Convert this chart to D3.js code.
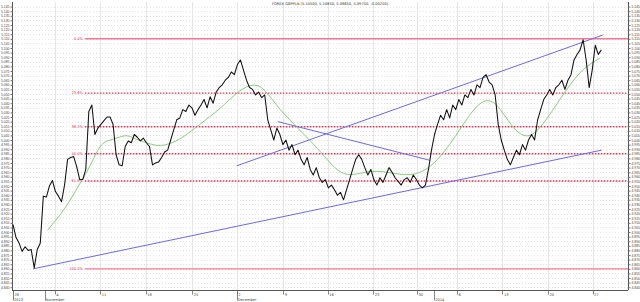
<!DOCTYPE html>
<html>
<head>
<meta charset="utf-8">
<script src="https://cdn.jsdelivr.net/npm/d3@7"></script>
<style>
  html, body { margin: 0; padding: 0; background: #fff; }
  svg { display: block; font-family: 'DejaVu Sans', sans-serif; }
</style>
</head>
<body>
<svg id="chart"></svg>
<script>
const title = 'FOREX GBPPLN (5.10500, 5.10850, 5.08650, 5.09750, -0.00200)'

// closes, three bars per trading day
const closes = [
  4.908, 4.894, 4.888, 4.879, 4.884, 4.880, 4.881, 4.861, 4.881, 4.888,
  4.939, 4.938, 4.950, 4.956, 4.944, 4.939, 4.933, 4.951, 4.979, 4.981,
  4.982, 4.971, 4.957, 4.957, 4.968, 5.031, 5.038, 5.006, 5.013, 5.017,
  5.021, 5.025, 5.025, 5.017, 4.984, 4.973, 4.972, 4.993, 4.999, 4.997,
  5.006, 5.003, 4.999, 5.002, 4.997, 4.993, 4.973, 4.975, 4.976, 4.981,
  4.987, 4.989, 5.000, 5.011, 5.022, 5.024, 5.033, 5.031, 5.038, 5.035,
  5.027, 5.033, 5.038, 5.044, 5.035, 5.047, 5.040, 5.052, 5.057, 5.060,
  5.065, 5.068, 5.074, 5.071, 5.082, 5.087, 5.076, 5.065, 5.057, 5.055,
  5.049, 5.052, 5.046, 5.049, 5.022, 5.011, 5.000, 5.013, 5.006, 4.995,
  5.000, 4.989, 4.995, 4.984, 4.989, 4.979, 4.973, 4.981, 4.968, 4.962,
  4.970, 4.959, 4.954, 4.957, 4.948, 4.951, 4.946, 4.940, 4.943, 4.935,
  4.946, 4.957, 4.968, 4.979, 4.984, 4.979, 4.970, 4.962, 4.968, 4.957,
  4.951, 4.959, 4.954, 4.962, 4.970, 4.965, 4.959, 4.955, 4.951, 4.957,
  4.959, 4.954, 4.962, 4.957, 4.951, 4.948, 4.951, 4.968, 4.989, 5.006,
  5.017, 5.027, 5.022, 5.033, 5.024, 5.038, 5.033, 5.044, 5.038, 5.049,
  5.046, 5.055, 5.049, 5.060, 5.057, 5.068, 5.071, 5.063, 5.060, 5.049,
  5.017, 5.000, 4.989, 4.979, 4.973, 4.981, 4.989, 4.984, 4.995, 4.989,
  5.000, 5.006, 5.000, 5.022, 5.033, 5.044, 5.049, 5.055, 5.049, 5.057,
  5.060, 5.065, 5.055, 5.065, 5.071, 5.087, 5.093, 5.098, 5.109, 5.087,
  5.057, 5.076, 5.103, 5.093, 5.098
]
const barsPerDay = 3

// moving average, [trading day, value]
const average = [
  [3.8, 4.902], [5.9, 4.927], [7.4, 4.954], [8.5, 4.971], [9.6, 4.997],
  [10.7, 5.000], [11.4, 5.002], [12.5, 5.006], [13.2, 5.002], [14.7, 4.997],
  [16.2, 4.992], [18.4, 5.000], [20.5, 5.017], [22.7, 5.033], [24.9, 5.055],
  [26.6, 5.062], [27.7, 5.055], [29.3, 5.033], [31.5, 5.011], [33.7, 4.989],
  [35.9, 4.962], [37.6, 4.962], [39.8, 4.968], [42.5, 4.962], [44.7, 4.962],
  [46.9, 4.979], [49.1, 5.011], [51.3, 5.044], [53.0, 5.044], [54.6, 5.017],
  [56.3, 5.000], [57.9, 5.011], [60.1, 5.044], [62.3, 5.076], [64.5, 5.089]
]

// trend lines, two ends each
const trendLines = [
  [[2.2, 4.860], [64.7, 4.989]],
  [[24.6, 4.972], [64.8, 5.114]],
  [[29.1, 5.020], [45.8, 4.978]]
]

const fibLabels = ['0.0%', '23.6%', '38.2%', '50.0%', '61.8%', '100.0%']
const fibValues = [5.110, 5.051, 5.0145, 4.985, 4.9555, 4.860]
const fibStart = 7.9

const weekDays = [0, 4.6, 9.6, 14.6, 19.7, 24.6, 29.7, 34.6, 39.6, 44.4, 48.8, 53.8, 58.8, 63.7]
const weekLabels = ['28', '4', '11', '18', '25', '2', '9', '16', '23', '30', '6', '13', '20', '27']
const monthDays = [0, 3.5, 24.6, 46.3]
const monthLabels = ['2013', 'November', 'December', '2014']

const priceTicks = d3.range(4.840, 5.1451, 0.005)

const width = 640
const height = 302
const plot = { left: 12, right: 628, top: 2, bottom: 290 }

const svg = d3.select('#chart').attr('width', width).attr('height', height)

const x = d3.scaleLinear().domain([0, 67.6]).range([13, plot.right])
const y = d3.scaleLinear().domain([4.837, 5.150]).range([plot.bottom, plot.top])
const snap = v => Math.round(v) + 0.5

// grid
svg.append('g').selectAll('line').data(priceTicks).join('line')
  .attr('x1', plot.left).attr('x2', plot.right)
  .attr('y1', d => snap(y(d))).attr('y2', d => snap(y(d)))
  .attr('stroke', '#d2d2d2').attr('stroke-width', 0.6).attr('stroke-dasharray', '1,2')

svg.append('g').selectAll('line').data(weekDays.slice(1)).join('line')
  .attr('x1', d => snap(x(d))).attr('x2', d => snap(x(d)))
  .attr('y1', plot.top).attr('y2', plot.bottom)
  .attr('stroke', '#e0e0e0').attr('stroke-width', 0.8)

// axes
const fmt = d3.format('.3f')
const left = svg.append('g').attr('transform', `translate(${plot.left + 0.5},0)`)
  .call(d3.axisLeft(y).tickValues(priceTicks).tickFormat(fmt).tickSize(2).tickPadding(1))
const right = svg.append('g').attr('transform', `translate(${plot.right + 0.5},0)`)
  .call(d3.axisRight(y).tickValues(priceTicks).tickFormat(fmt).tickSize(2).tickPadding(1))
;[left, right].forEach(g => {
  g.select('.domain').attr('d', `M0,${plot.top}V${plot.bottom}`).attr('stroke', '#555')
  g.selectAll('.tick line').attr('stroke', '#777')
  g.selectAll('text').attr('font-size', 3.4).attr('fill', '#444')
})

const bottom = svg.append('g').attr('transform', `translate(0,${plot.bottom + 0.5})`)
bottom.append('line').attr('x1', plot.left).attr('x2', plot.right).attr('stroke', '#555')
bottom.selectAll('.wk').data(weekDays).join('line').attr('class', 'wk')
  .attr('x1', d => snap(x(d))).attr('x2', d => snap(x(d)))
  .attr('y1', 0).attr('y2', 4).attr('stroke', '#666').attr('stroke-width', 0.8)
bottom.selectAll('.wkl').data(weekDays).join('text').attr('class', 'wkl')
  .attr('x', d => x(d) + 1.5).attr('y', 5.5)
  .attr('font-size', 3.6).attr('fill', '#444').text((d, i) => weekLabels[i])
bottom.selectAll('.mo').data(monthDays).join('line').attr('class', 'mo')
  .attr('x1', d => snap(x(d))).attr('x2', d => snap(x(d)))
  .attr('y1', 0).attr('y2', 10).attr('stroke', '#666').attr('stroke-width', 0.8)
bottom.selectAll('.mol').data(monthDays).join('text').attr('class', 'mol')
  .attr('x', d => x(d) + 1).attr('y', 10)
  .attr('font-size', 3.6).attr('fill', '#444').text((d, i) => monthLabels[i])

// fibonacci levels, solid at the ends, dotted between
const isEnd = i => i === 0 || i === fibValues.length - 1
const fib = svg.append('g')
fib.selectAll('line').data(fibValues).join('line')
  .attr('x1', x(fibStart)).attr('x2', plot.right)
  .attr('y1', d => y(d)).attr('y2', d => y(d))
  .attr('stroke', (d, i) => isEnd(i) ? '#f27a94' : '#f2304e')
  .attr('stroke-width', 1.4)
  .attr('stroke-dasharray', (d, i) => isEnd(i) ? null : '1.5,1.5')
fib.selectAll('text').data(fibValues).join('text')
  .attr('x', x(fibStart) - 2).attr('y', d => y(d) + 1.3)
  .attr('text-anchor', 'end').attr('font-size', 3.6).attr('fill', '#e8304e')
  .text((d, i) => fibLabels[i])

// trend lines
svg.append('g').selectAll('line').data(trendLines).join('line')
  .attr('x1', d => x(d[0][0])).attr('y1', d => y(d[0][1]))
  .attr('x2', d => x(d[1][0])).attr('y2', d => y(d[1][1]))
  .attr('stroke', '#6b6bdc').attr('stroke-width', 1)

// moving average
svg.append('path').datum(average)
  .attr('d', d3.line().x(d => x(d[0])).y(d => y(d[1])).curve(d3.curveBasis))
  .attr('fill', 'none').attr('stroke', '#6cbf60').attr('stroke-width', 0.8)

// price
svg.append('path').datum(closes)
  .attr('d', d3.line().x((d, i) => x(i / barsPerDay)).y(d => y(d)))
  .attr('fill', 'none').attr('stroke', '#111').attr('stroke-width', 1.05)
  .attr('stroke-linejoin', 'round')

svg.append('text').attr('x', 330).attr('y', 5).attr('text-anchor', 'middle')
  .attr('font-size', 3.6).attr('fill', '#333').text(title)
</script>
</body>
</html>
